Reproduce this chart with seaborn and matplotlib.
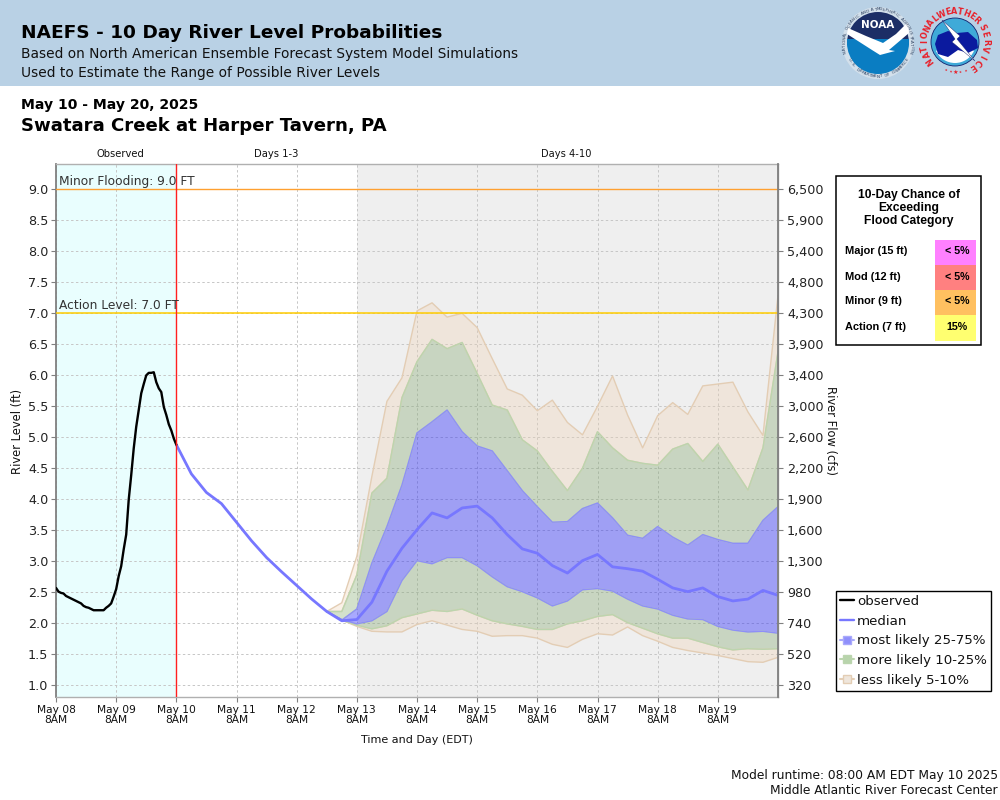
"""
NAEFS river level probabilities, Swatara Creek at Harper Tavern
"""

import numpy as np
import pandas as pd
import matplotlib
matplotlib.use('Agg')
import matplotlib.pyplot as plt
from matplotlib.lines import Line2D
from matplotlib.patches import Circle, Polygon, Rectangle, Wedge
import seaborn as sns

# -- data ---------------------------------------------------------------------
observed = [2.56, 2.50, 2.48, 2.47, 2.43, 2.41, 2.39, 2.37, 2.35, 2.33, 2.31, 2.27,
            2.25, 2.24, 2.22, 2.20, 2.20, 2.20, 2.20, 2.20, 2.24, 2.27, 2.31, 2.42,
            2.54, 2.75, 2.91, 3.18, 3.42, 3.98, 4.38, 4.81, 5.16, 5.43, 5.70, 5.85,
            5.99, 6.03, 6.03, 6.04, 5.88, 5.78, 5.72, 5.48, 5.35, 5.20, 5.10, 4.97, 4.87]

median = [4.87, 4.40, 4.10, 3.92, 3.62, 3.32, 3.05, 2.82, 2.60, 2.38, 2.18, 2.03,
          2.05, 2.33, 2.83, 3.20, 3.50, 3.77, 3.69, 3.85, 3.88, 3.69, 3.42, 3.19,
          3.12, 2.92, 2.80, 3.00, 3.10, 2.90, 2.87, 2.83, 2.70, 2.56, 2.50, 2.56,
          2.42, 2.35, 2.38, 2.52, 2.44]

p95 = [2.18, 2.32, 3.07, 4.36, 5.57, 5.95, 7.03, 7.16, 6.93, 6.99, 6.76, 6.26, 5.77,
       5.67, 5.42, 5.59, 5.23, 5.03, 5.49, 5.98, 5.35, 4.82, 5.34, 5.55, 5.36, 5.82,
       5.85, 5.88, 5.40, 5.02, 7.28]
p90 = [2.18, 2.18, 2.77, 4.09, 4.33, 5.63, 6.21, 6.57, 6.42, 6.52, 6.02, 5.51, 5.43,
       4.95, 4.77, 4.44, 4.13, 4.49, 5.08, 4.82, 4.62, 4.57, 4.54, 4.80, 4.89, 4.60,
       4.88, 4.51, 4.14, 4.82, 6.37]
p75 = [2.18, 2.04, 2.22, 2.96, 3.55, 4.22, 5.06, 5.24, 5.43, 5.08, 4.85, 4.77, 4.45,
       4.13, 3.87, 3.62, 3.63, 3.84, 3.93, 3.69, 3.41, 3.36, 3.55, 3.38, 3.25, 3.42,
       3.34, 3.28, 3.28, 3.65, 3.87]
p25 = [2.18, 2.05, 1.98, 2.03, 2.18, 2.68, 3.00, 2.95, 3.05, 3.05, 2.92, 2.74, 2.58,
       2.50, 2.40, 2.27, 2.35, 2.53, 2.55, 2.51, 2.38, 2.27, 2.22, 2.12, 2.06, 2.05,
       1.94, 1.88, 1.85, 1.86, 1.83]
p10 = [2.18, 2.04, 1.96, 1.90, 1.95, 2.08, 2.14, 2.20, 2.18, 2.22, 2.12, 2.03, 1.98,
       1.94, 1.89, 1.89, 1.98, 2.03, 2.10, 2.13, 2.00, 1.91, 1.82, 1.75, 1.75, 1.68,
       1.61, 1.56, 1.58, 1.57, 1.58]
p5 = [2.18, 2.04, 1.94, 1.86, 1.85, 1.85, 1.97, 2.03, 1.96, 1.89, 1.86, 1.78, 1.79,
      1.79, 1.75, 1.65, 1.60, 1.73, 1.82, 1.80, 1.93, 1.79, 1.70, 1.60, 1.55, 1.51,
      1.47, 1.42, 1.37, 1.36, 1.44]

level_ticks = [1.0, 1.5, 2.0, 2.5, 3.0, 3.5, 4.0, 4.5, 5.0, 5.5, 6.0, 6.5, 7.0, 7.5,
               8.0, 8.5, 9.0]
flow_labels = ['320', '520', '740', '980', '1,300', '1,600', '1,900', '2,200', '2,600',
               '3,000', '3,400', '3,900', '4,300', '4,800', '5,400', '5,900', '6,500']
day_labels = ['May 08', 'May 09', 'May 10', 'May 11', 'May 12', 'May 13', 'May 14',
              'May 15', 'May 16', 'May 17', 'May 18', 'May 19']

flood_names = ['Major (15 ft)', 'Mod (12 ft)', 'Minor (9 ft)', 'Action (7 ft)']
flood_chance = ['< 5%', '< 5%', '< 5%', '15%']
flood_colors = ['#FF80FF', '#FF8080', '#FFC060', '#FFFF70']

obs_time = pd.date_range('2025-05-08 08:00', periods=len(observed), freq='h')
med_time = pd.date_range('2025-05-10 08:00', periods=len(median), freq='6h')
band_time = pd.date_range('2025-05-12 20:00', periods=len(p95), freq='6h')
day_ticks = pd.date_range('2025-05-08 08:00', periods=len(day_labels), freq='D')

df_obs = pd.DataFrame({'time': obs_time, 'level': observed})
df_med = pd.DataFrame({'time': med_time, 'level': median})

MEDIAN = '#7777FF'
BLUE_F, BLUE_E = (0.02, 0.02, 1, 0.34), '#8E8EF8'
GREEN_F, GREEN_E = (0.43, 0.61, 0.35, 0.30), '#BBD5AE'
TAN_F, TAN_E = (0.94, 0.82, 0.69, 0.30), '#E3CDB4'

# -- figure ------------------------------------------------------------------
sns.set_style('white')
plt.rcParams['font.family'] = ['DejaVu Sans']

W, H = 1000, 800
fig = plt.figure(figsize=(10, 8), dpi=100, facecolor='white')
ax = fig.add_axes([56 / W, (H - 697) / H, 722 / W, 533 / H])

t0 = day_ticks[0]
ax.set_xlim(t0, t0 + pd.Timedelta(days=12))
ax.set_ylim(0.8, 9.4)

# shaded periods
ax.axvspan(t0, med_time[0], color='#E9FEFE', lw=0, zorder=0)
ax.axvspan(day_ticks[5], t0 + pd.Timedelta(days=12), color='#EFEFEF', lw=0, zorder=0)

ax.grid(True, color='#C6C6C6', lw=0.7, ls=(0, (2.5, 2.5)), zorder=1)
ax.set_axisbelow(True)

# probability bands
bands = [(p90, p95, TAN_F, TAN_E), (p5, p10, TAN_F, TAN_E),
         (p75, p90, GREEN_F, GREEN_E), (p10, p25, GREEN_F, GREEN_E),
         (p25, p75, BLUE_F, BLUE_E)]
for low, high, fill, edge in bands:
    ax.fill_between(band_time, low, high, facecolor=fill, edgecolor='none', zorder=2)
    ax.plot(band_time, low, color=edge, lw=1.0, zorder=2.2)
    ax.plot(band_time, high, color=edge, lw=1.0, zorder=2.2)

sns.lineplot(data=df_med, x='time', y='level', ax=ax, color=MEDIAN, lw=2.0,
             zorder=3, legend=False)
sns.lineplot(data=df_obs, x='time', y='level', ax=ax, color='black', lw=1.7,
             zorder=4, legend=False)

# flood levels and "now" line
ax.axhline(9.0, color='#FFA030', lw=1.0, zorder=3)
ax.axhline(7.0, color='#FFCC00', lw=1.1, zorder=3)
ax.axvline(med_time[0], color='#FF2020', lw=1.0, zorder=5)

ax.set_xticks(day_ticks)
ax.set_xticklabels([f'{d}\n8AM' for d in day_labels], fontsize=7.7, color='#111111',
                   linespacing=1.05)
ax.set_yticks(level_ticks)
ax.set_yticklabels([f'{v:.1f}' for v in level_ticks], fontsize=9.2, color='#222222')
ax.set_xlabel('')
ax.set_ylabel('')
ax.tick_params(axis='both', length=3.5, width=0.8, color='#808080', pad=2, bottom=True, left=True)

ax2 = ax.twinx()
ax2.set_ylim(ax.get_ylim())
ax2.set_yticks(level_ticks)
ax2.set_yticklabels(flow_labels, fontsize=9.2, color='#222222')
ax2.tick_params(axis='y', length=3.5, width=0.8, color='#808080', pad=3, right=True)
ax2.grid(False)

for side, sp in ax.spines.items():
    sp.set_color('#808080' if side == 'left' else '#B0B0B0')
    sp.set_linewidth(1.3 if side == 'left' else 1.0)
for side, sp in ax2.spines.items():
    sp.set_visible(side == 'right')
    sp.set_color('#808080')
    sp.set_linewidth(1.3)

# -- overlay in pixel coordinates ---------------------------------------------
ov = fig.add_axes([0, 0, 1, 1], zorder=10)
ov.set_xlim(0, W)
ov.set_ylim(H, 0)
ov.axis('off')
ov.patch.set_alpha(0)

ov.add_patch(Rectangle((0, 0), W, 86, color='#B9D1E5', lw=0))

ov.text(21, 33, 'NAEFS - 10 Day River Level Probabilities', fontsize=13.3, weight='bold',
        va='center', color='black')
ov.text(21, 54, 'Based on North American Ensemble Forecast System Model Simulations',
        fontsize=9.87, va='center', color='#111111')
ov.text(21, 73, 'Used to Estimate the Range of Possible River Levels', fontsize=9.87,
        va='center', color='#111111')
ov.text(21, 105, 'May 10 - May 20, 2025', fontsize=10.1, weight='bold', va='center',
        color='black')
ov.text(21, 126, 'Swatara Creek at Harper Tavern, PA', fontsize=13.1, weight='bold',
        va='center', color='black')

ov.text(120, 154, 'Observed', fontsize=7.2, ha='center', va='center', color='#111111')
ov.text(276.5, 154, 'Days 1-3', fontsize=7.2, ha='center', va='center', color='#111111')
ov.text(566.5, 154, 'Days 4-10', fontsize=7.1, ha='center', va='center', color='#111111')

ov.text(59, 181.5, 'Minor Flooding: 9.0 FT', fontsize=8.85, va='center', color='#333333')
ov.text(59, 305.5, 'Action Level: 7.0 FT', fontsize=8.85, va='center', color='#333333')

ov.text(18, 431, 'River Level (ft)', fontsize=8.3, rotation=90, ha='center', va='center',
        color='#111111')
ov.text(831, 431, 'River Flow (cfs)', fontsize=8.3, rotation=270, ha='center', va='center',
        color='#111111')
ov.text(417, 740, 'Time and Day (EDT)', fontsize=8, ha='center', va='center', color='#111111')

ov.text(998, 776, 'Model runtime: 08:00 AM EDT May 10 2025', fontsize=8.85, ha='right',
        va='center', color='#111111')
ov.text(998, 791, 'Middle Atlantic River Forecast Center', fontsize=8.85, ha='right',
        va='center', color='#111111')

# flood category table
ov.add_patch(Rectangle((836, 176), 144.5, 169, facecolor='white', edgecolor='black', lw=1.1))
for y, line in zip((195, 208, 221), ('10-Day Chance of', 'Exceeding', 'Flood Category')):
    ov.text(909, y, line, family='Liberation Sans', fontsize=8.75, weight='bold',
            ha='center', va='center', color='black')
for i, (name, chance, col) in enumerate(zip(flood_names, flood_chance, flood_colors)):
    top = 240 + i * 25
    ov.add_patch(Rectangle((935, top), 41, 26 if i == 3 else 25, facecolor=col, lw=0))
    ov.text(845, top + 11.5, name, family='Liberation Sans', fontsize=7.9, weight='bold',
            va='center', color='black')
    ov.text(957, top + 11.5, chance, family='Liberation Sans', fontsize=7.7, weight='bold',
            ha='center', va='center', color='black')

# legend
handles = [
    Line2D([], [], color='black', lw=1.7),
    Line2D([], [], color=MEDIAN, lw=1.7),
    Line2D([], [], color='#A9A9FB', lw=1.5, marker='s', ms=5.5, mfc='#8F8FFB', mec='#A9A9FB'),
    Line2D([], [], color='#BBD5AE', lw=1.5, marker='s', ms=5.5, mfc='#B8D4AC', mec='#BBD5AE'),
    Line2D([], [], color='#E3CDB4', lw=1.5, marker='s', ms=5.5, mfc='#EFE6DC', mec='#E3CDB4'),
]
names = ['observed', 'median', 'most likely 25-75%', 'more likely 10-25%', 'less likely 5-10%']
leg = ov.legend(handles, names, loc='upper left', bbox_to_anchor=(835.5 / W, 1 - 591 / H),
                bbox_transform=fig.transFigure, fontsize=9.65, frameon=True, fancybox=False,
                edgecolor='black', framealpha=1, handlelength=1.1, handletextpad=0.22,
                labelspacing=0.5, borderpad=0.3, borderaxespad=0, labelcolor='#111111')
leg.get_frame().set_linewidth(1.0)


def arc_text(text, cx, cy, r, start, end, flip=False, **kw):
    # letters along an arc, angles in degrees clockwise from the top
    for ch, ang in zip(text, np.linspace(start, end, len(text))):
        a = np.radians(ang)
        rot = 180 - ang if flip else -ang
        ov.text(cx + r * np.sin(a), cy - r * np.cos(a), ch, rotation=rot, ha='center',
                va='center', **kw)


# NOAA logo (drawn approximately)
cx, cy = 878, 43
ov.add_patch(Circle((cx, cy), 36, facecolor='#D3E0EB', edgecolor='none'))
ov.add_patch(Wedge((cx, cy), 31, 180, 360, facecolor='#1C2E66', lw=0))
ov.add_patch(Wedge((cx, cy), 31, 0, 180, facecolor='#0A7DC2', lw=0))
ov.add_patch(Rectangle((cx - 31, cy - 4), 62, 6, facecolor='#0A7DC2', lw=0))
ov.add_patch(Polygon([(848, 28), (866, 36), (883, 43), (896, 34), (908, 22), (909, 33),
                      (889, 50), (895, 51), (880, 55), (872, 50), (847, 34)],
                     facecolor='white', lw=0))
ov.text(cx, 25, 'NOAA', color='white', fontsize=7.5, weight='bold', ha='center', va='center')
arc_text('NATIONAL OCEANIC AND ATMOSPHERIC ADMINISTRATION', cx, cy, 33.5, -105, 105,
         fontsize=3.0, color='#2A3F5F')
arc_text('U.S. DEPARTMENT OF COMMERCE', cx, cy, 33.5, 240, 120, flip=True,
         fontsize=3.0, color='#2A3F5F')

# NWS logo (drawn approximately)
cx, cy = 955, 42
ov.add_patch(Circle((cx, cy), 24, facecolor='#3FAAD8', edgecolor='#12216E', lw=0.6))
ov.add_patch(Wedge((cx, cy), 21, 25, 155, facecolor='white', lw=0))
ov.add_patch(Polygon([(935, 44), (938, 35), (948, 31), (957, 33), (968, 32), (977, 40),
                      (978, 48), (968, 53), (958, 50), (948, 57), (938, 54)],
                     facecolor='#0B1A9E', lw=0))
ov.add_patch(Polygon([(942, 20), (960, 36), (957, 39), (975, 61), (952, 42), (955, 39)],
                     facecolor='white', edgecolor='#12216E', lw=0.3))
red = dict(fontsize=5.9, weight='bold', color='#E8202A')
arc_text('NATIONAL', cx, cy, 30.5, -127, -39, **red)
arc_text('WEATHER', cx, cy, 30.5, -25, 45, **red)
arc_text('SERVICE', cx, cy, 30.5, 62, 145, **red)
arc_text('\u2022\u2022\u2605\u2022\u2022', cx, cy, 30.5, 200, 160, flip=True,
         fontsize=4.5, color='#E8202A')

fig.savefig('out.png', dpi=100, facecolor='white')
